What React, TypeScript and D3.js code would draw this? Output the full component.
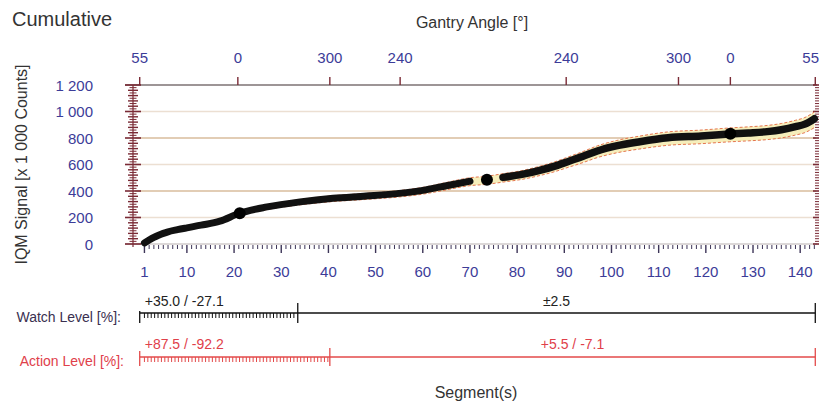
import React from "react";
import * as d3 from "d3";

// ---- data ----
const segA = [1, 2, 3, 4, 5, 6, 8, 10, 13, 17, 21, 27, 34, 41, 48, 55, 60, 65, 70];
const valA = [8, 30, 50, 66, 80, 92, 108, 122, 142, 172, 230, 280, 318, 345, 362, 382, 405, 440, 474];
const segB = [77, 81, 85, 88, 91, 94, 97, 101, 106, 112, 119, 125, 129, 133, 136, 139, 141, 143];
const valB = [503, 525, 558, 588, 625, 662, 702, 740, 772, 802, 815, 830, 838, 848, 862, 885, 905, 945];
const dotSeg = [21.2, 73.6, 125.2];
const dotVal = [232, 485, 832];
const yTicks = [0, 200, 400, 600, 800, 1000, 1200];
const xTickLabels = [1, 10, 20, 30, 40, 50, 60, 70, 80, 90, 100, 110, 120, 130, 140];
const gantrySeg = [0, 20.8, 40.3, 55.2, 90.4, 114.2, 125.2, 143.2];
const gantryLabels = ["55", "0", "300", "240", "240", "300", "0", "55"];
const watchBounds = [0, 33.5, 143.2];
const watchLabels = ["+35.0 / -27.1", "\u00b12.5"];
const actionBounds = [0, 40.3, 143.2];
const actionLabels = ["+87.5 / -92.2", "+5.5 / -7.1"];
const actionUpper = 5.5;
const actionLower = 7.1;

const FONT = "'Liberation Sans', Arial, sans-serif";
const BLUE = "#3c3c98";
const MAROON = "#7a2a35";

export default function App() {
  const x = d3.scaleLinear().domain([-1, 143.5]).range([135, 816.7]);
  const y = d3.scaleLinear().domain([0, 1200]).range([244, 85]);

  const ptsA = segA.map((s, i) => [s, valA[i]] as [number, number]);
  const ptsB = segB.map((s, i) => [s, valB[i]] as [number, number]);
  const allPts = [...ptsA, [dotSeg[1], dotVal[1]] as [number, number], ...ptsB];

  const line = d3
    .line<[number, number]>()
    .x((d) => x(d[0]))
    .y((d) => y(d[1]))
    .curve(d3.curveMonotoneX);
  const upLine = d3
    .line<[number, number]>()
    .x((d) => x(d[0]))
    .y((d) => y(d[1] * (1 + actionUpper / 100)))
    .curve(d3.curveMonotoneX);
  const loLine = d3
    .line<[number, number]>()
    .x((d) => x(d[0]))
    .y((d) => y(d[1] * (1 - actionLower / 100)))
    .curve(d3.curveMonotoneX);
  const area = d3
    .area<[number, number]>()
    .x((d) => x(d[0]))
    .y0((d) => y(d[1] * (1 - actionLower / 100)))
    .y1((d) => y(d[1] * (1 + actionUpper / 100)))
    .curve(d3.curveMonotoneX);

  const minorY = d3.range(0, 1201, 20).filter((v) => v % 200 !== 0);
  const segTicks = d3.range(1, 144);

  const watchY = 313;
  const actionY = 357;
  const watchSmall = d3.range(1, 33, 0.72);
  const actionSmall = d3.range(1, 40, 0.72);

  const gridColor = (v: number) => (v % 400 === 0 ? "#d8bc9c" : "#ecdfd2");

  return (
    <svg
      width={820}
      height={406}
      style={{ position: "absolute", left: 0, top: 0, background: "#fff" }}
      fontFamily={FONT}
    >
      {/* titles */}
      <text x={12} y={19} fontSize={20} fill="#333" dominantBaseline="central">
        Cumulative
      </text>
      <text x={472} y={22} fontSize={16} fill="#333" textAnchor="middle" dominantBaseline="central">
        Gantry Angle [°]
      </text>
      <text
        transform={`translate(21,${(y(0) + y(1200)) / 2}) rotate(-90)`}
        fontSize={16}
        fill="#333"
        textAnchor="middle"
        dominantBaseline="central"
      >
        IQM Signal [x 1 000 Counts]
      </text>

      {/* gridlines */}
      {yTicks
        .filter((v) => v > 0 && v < 1200)
        .map((v) => (
          <line key={"g" + v} x1={135} x2={816} y1={y(v)} y2={y(v)} stroke={gridColor(v)} strokeWidth={1.6} />
        ))}
      {/* frame lines */}
      <line x1={125} x2={817} y1={y(1200)} y2={y(1200)} stroke="#7d7273" strokeWidth={1.3} />
      <line x1={125} x2={817} y1={y(0)} y2={y(0)} stroke="#b9b0b0" strokeWidth={1} />
      <line x1={133} x2={133} y1={y(1200)} y2={y(0) + 3} stroke={MAROON} strokeWidth={1.2} />

      {/* left y ticks */}
      {yTicks.map((v) => (
        <line key={"ly" + v} x1={125} x2={141} y1={y(v)} y2={y(v)} stroke={MAROON} strokeWidth={1.6} />
      ))}
      {minorY.map((v) => (
        <line
          key={"lm" + v}
          x1={v % 40 === 0 ? 128 : 129.5}
          x2={v % 40 === 0 ? 138 : 136.5}
          y1={y(v)}
          y2={y(v)}
          stroke={MAROON}
          strokeWidth={v % 40 === 0 ? 1.4 : 1}
        />
      ))}
      {/* right y ticks */}
      {d3.range(0, 1201, 20).map((v) => (
        <line
          key={"ry" + v}
          x1={v % 200 === 0 ? 813 : 815}
          x2={819}
          y1={y(v)}
          y2={y(v)}
          stroke={MAROON}
          strokeWidth={v % 200 === 0 ? 1.6 : 1}
        />
      ))}
      {yTicks.map((v) => (
        <text
          key={"yl" + v}
          x={93}
          y={y(v)}
          fontSize={15}
          fill={BLUE}
          textAnchor="end"
          dominantBaseline="central"
        >
          {v >= 1000 ? d3.format(",")(v).replace(",", " ") : String(v)}
        </text>
      ))}

      {/* bottom x ticks */}
      {segTicks.map((s) => {
        const major = s % 10 === 0 || s === 1;
        return (
          <line
            key={"bx" + s}
            x1={x(s)}
            x2={x(s)}
            y1={y(0) + 1}
            y2={y(0) + (major ? 9 : 5)}
            stroke="#3d3558"
            strokeWidth={major ? 1.4 : 1}
          />
        );
      })}
      {xTickLabels.map((s) => (
        <text key={"xl" + s} x={x(s)} y={271} fontSize={15} fill={BLUE} textAnchor="middle" dominantBaseline="central">
          {s}
        </text>
      ))}

      {/* top gantry axis */}
      {gantrySeg.map((s, i) => (
        <g key={"gt" + i}>
          <line x1={x(s)} x2={x(s)} y1={y(1200) - 8} y2={y(1200)} stroke={MAROON} strokeWidth={1.4} />
          <text
            x={i === gantrySeg.length - 1 ? 819 : x(s)}
            y={57}
            fontSize={15}
            fill={BLUE}
            textAnchor={i === gantrySeg.length - 1 ? "end" : "middle"}
            dominantBaseline="central"
          >
            {gantryLabels[i]}
          </text>
        </g>
      ))}

      {/* tolerance band */}
      <path d={area(allPts) || ""} fill="#f6eebb" />
      <path d={upLine(allPts) || ""} fill="none" stroke="#e2673f" strokeWidth={0.9} strokeDasharray="3,2" />
      <path d={loLine(allPts) || ""} fill="none" stroke="#e2673f" strokeWidth={0.9} strokeDasharray="3,2" />

      {/* measured curve */}
      <path d={line(ptsA) || ""} fill="none" stroke="#111" strokeWidth={7} strokeLinecap="round" />
      <path d={line(ptsB) || ""} fill="none" stroke="#111" strokeWidth={7.5} strokeLinecap="round" />
      {dotSeg.map((s, i) => (
        <circle key={"d" + i} cx={x(s)} cy={y(dotVal[i])} r={6} fill="#000" />
      ))}

      {/* watch level */}
      <text x={121} y={317} fontSize={14} fill="#3a3050" textAnchor="end" dominantBaseline="central">
        Watch Level [%]:
      </text>
      <line x1={x(watchBounds[0])} x2={x(watchBounds[2])} y1={watchY} y2={watchY} stroke="#111" strokeWidth={1.5} />
      {watchBounds.map((s, i) => (
        <line
          key={"wb" + i}
          x1={x(s)}
          x2={x(s)}
          y1={i === 0 ? watchY - 2 : watchY - 10}
          y2={watchY + 10}
          stroke="#111"
          strokeWidth={1.3}
        />
      ))}
      {watchSmall.map((s, i) => (
        <line key={"ws" + i} x1={x(s)} x2={x(s)} y1={watchY} y2={watchY + 5} stroke="#111" strokeWidth={1} />
      ))}
      <text x={x(watchBounds[0]) + 5} y={301} fontSize={14} fill="#222" dominantBaseline="central">
        {watchLabels[0]}
      </text>
      <text
        x={(x(watchBounds[1]) + x(watchBounds[2])) / 2}
        y={301}
        fontSize={14}
        fill="#222"
        textAnchor="middle"
        dominantBaseline="central"
      >
        {watchLabels[1]}
      </text>

      {/* action level */}
      <text x={124} y={361} fontSize={14} fill="#e0404a" textAnchor="end" dominantBaseline="central">
        Action Level [%]:
      </text>
      <line x1={x(actionBounds[0])} x2={x(actionBounds[2])} y1={actionY} y2={actionY} stroke="#e34a4a" strokeWidth={1.3} />
      {actionBounds.map((s, i) => (
        <line
          key={"ab" + i}
          x1={x(s)}
          x2={x(s)}
          y1={i === 0 ? actionY - 6 : actionY - 9}
          y2={actionY + 9}
          stroke="#e34a4a"
          strokeWidth={1.3}
        />
      ))}
      {actionSmall.map((s, i) => (
        <line key={"as" + i} x1={x(s)} x2={x(s)} y1={actionY} y2={actionY + 5} stroke="#e34a4a" strokeWidth={1} />
      ))}
      <text x={x(actionBounds[0]) + 5} y={344} fontSize={14} fill="#e0404a" dominantBaseline="central">
        {actionLabels[0]}
      </text>
      <text
        x={(x(actionBounds[1]) + x(actionBounds[2])) / 2}
        y={344}
        fontSize={14}
        fill="#e0404a"
        textAnchor="middle"
        dominantBaseline="central"
      >
        {actionLabels[1]}
      </text>

      <text x={476} y={392} fontSize={16} fill="#333" textAnchor="middle" dominantBaseline="central">
        Segment(s)
      </text>
    </svg>
  );
}
